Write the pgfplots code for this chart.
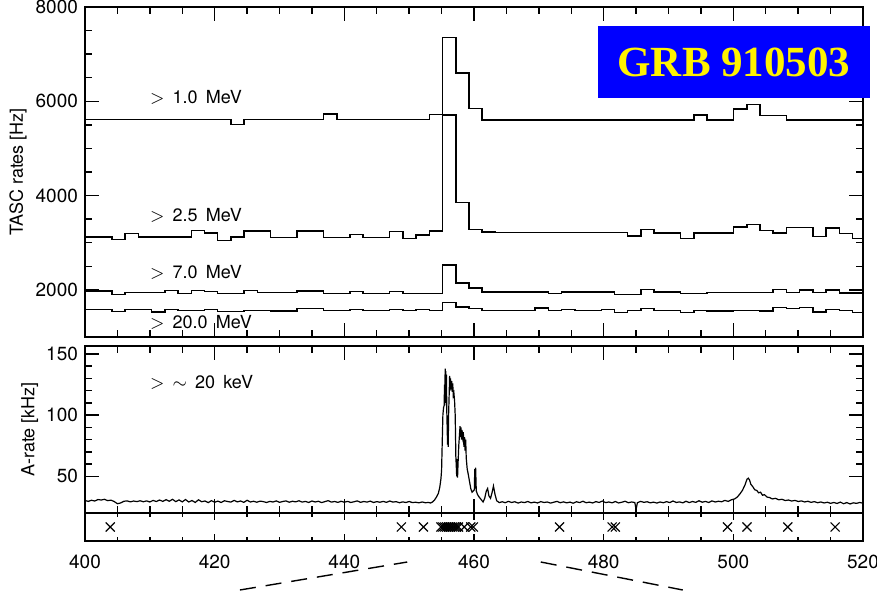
\documentclass[border=0pt]{standalone}
\usepackage{fontspec}
\setmainfont{TeX Gyre Heros}
\newfontfamily\timesfont{Liberation Serif}
\usepackage{pgfplots}
\usepackage{pgfplotstable}
\pgfplotsset{compat=1.18}

\pgfplotstableread{
x a b c d
400.00 5615 3122 1975 1588
402.11 5615 3122 1975 1588
404.15 5615 3070 1906 1545
406.19 5615 3193 1941 1581
408.23 5615 3122 1941 1581
410.27 5615 3122 1941 1531
412.31 5615 3122 1990 1588
414.35 5615 3122 1920 1559
416.39 5615 3263 1990 1559
418.43 5615 3207 1970 1588
420.47 5615 3051 1920 1545
422.51 5510 3122 1920 1545
424.55 5615 3250 1990 1566
426.59 5615 3250 1941 1566
428.63 5615 3108 1941 1552
430.67 5615 3108 1941 1552
432.71 5615 3250 1977 1602
434.75 5615 3250 1977 1602
436.79 5730 3108 1927 1559
438.83 5615 3108 1927 1559
440.87 5615 3172 1970 1588
442.91 5615 3108 1927 1559
444.95 5615 3108 1927 1559
446.99 5615 3240 1970 1588
449.03 5615 3094 1927 1566
451.07 5615 3164 1927 1588
453.11 5720 3249 1927 1566
455.15 7350 5709 2530 1729
457.19 6600 3849 2146 1637
459.23 5850 3285 2040 1602
461.27 5605 3225 1955 1566
463.31 5605 3220 1955 1566
465.35 5605 3220 1955 1566
467.39 5605 3220 1955 1566
469.43 5605 3220 1955 1616
471.47 5605 3220 1920 1559
473.51 5605 3220 1955 1588
475.55 5605 3220 1955 1559
477.59 5605 3220 1955 1559
479.63 5605 3220 1955 1581
481.67 5605 3220 1906 1517
483.71 5605 3143 1906 1559
485.75 5605 3284 2012 1602
487.79 5605 3207 1955 1559
489.83 5605 3207 1955 1559
491.87 5605 3086 1920 1517
493.91 5710 3207 1920 1566
495.95 5605 3207 1948 1552
497.99 5605 3207 1948 1552
500.03 5836 3334 1948 1566
502.07 5936 3383 1948 1566
504.11 5700 3263 1948 1552
506.15 5700 3207 2012 1630
508.19 5605 3320 1941 1602
510.23 5605 3320 1998 1630
512.27 5605 3136 1941 1531
514.31 5605 3313 1998 1588
516.35 5605 3193 1934 1559
518.39 5605 3086 1934 1524
520.43 5605 3086 1934 1524
}\tasc

\pgfplotstableread{
x y
400.0 30.2
400.5 29.5
401.0 30.4
401.5 29.8
402.0 31.0
402.5 30.6
403.0 31.2
403.5 30.1
404.0 30.5
404.5 29.4
405.0 27.6
405.5 28.2
406.0 29.6
406.5 29.9
407.0 29.1
407.5 29.8
408.0 29.3
408.5 30.0
409.0 29.2
409.5 29.9
410.0 29.0
410.5 30.3
411.0 29.4
411.5 30.6
412.0 29.5
412.5 30.9
413.0 29.6
413.5 31.2
414.0 29.3
414.5 30.7
415.0 29.1
415.5 31.0
416.0 29.0
416.5 30.2
417.0 28.6
417.5 30.8
418.0 29.2
418.5 29.8
419.0 28.5
419.5 30.1
420.0 28.8
420.5 29.7
421.0 28.6
421.5 30.0
422.0 29.4
422.5 28.9
423.0 30.3
423.5 29.1
424.0 29.8
424.5 28.7
425.0 30.4
425.5 29.0
426.0 29.6
426.5 28.8
427.0 29.7
427.5 29.3
428.0 28.6
428.5 29.5
429.0 29.0
429.5 29.9
430.0 28.7
430.5 29.4
431.0 29.9
431.5 28.8
432.0 29.6
432.5 29.1
433.0 30.0
433.5 28.9
434.0 29.5
434.5 28.6
435.0 29.8
435.5 29.0
436.0 29.6
436.5 28.5
437.0 29.3
437.5 30.1
438.0 28.9
438.5 29.4
439.0 28.7
439.5 29.6
440.0 28.8
440.5 29.5
441.0 28.6
441.5 29.2
442.0 29.9
442.5 28.7
443.0 29.4
443.5 28.9
444.0 29.7
444.5 28.6
445.0 29.3
445.5 28.8
446.0 29.5
446.5 28.7
447.0 29.8
447.5 28.9
448.0 29.3
448.5 28.4
449.0 29.1
449.5 28.6
450.0 29.4
450.5 28.5
451.0 28.8
451.5 28.3
452.0 29.0
452.5 28.4
453.0 28.6
453.3 28.2
453.6 29.0
453.9 30.5
454.2 33.0
454.5 36.0
454.72 41
454.9 48
455.0 55
455.1 78
455.2 100
455.3 106
455.4 108
455.45 125
455.5 110
455.55 138
455.6 112
455.65 136
455.7 108
455.75 133
455.8 104
455.86 90
455.92 76
455.97 86
456.02 74
456.08 100
456.16 115
456.24 132
456.3 120
456.38 130
456.46 121
456.55 128
456.63 119
456.72 126
456.8 116
456.9 118
457.0 112
457.1 100
457.2 66
457.27 58
457.33 50
457.4 64
457.46 49
457.55 62
457.65 75
457.76 84
457.85 91
457.92 82
458.0 90
458.08 80
458.15 88
458.25 82
458.35 86
458.45 74
458.55 82
458.62 71
458.72 80
458.8 65
458.95 56
459.1 52
459.3 46
459.5 40
459.7 37
459.9 38
460.05 39
460.12 56
460.2 40
460.25 57
460.35 38
460.55 35
460.8 33
461.1 31
461.4 29
461.65 32
461.9 38
462.1 40
462.3 34
462.55 32
462.8 37
463.0 42
463.25 35
463.5 30
463.9 28.5
464.35 29.2
464.8 28.4
465.3 29.5
465.8 28.6
466.3 29.2
466.8 28.1
467.3 29.0
467.8 28.5
468.3 29.4
468.8 28.3
469.3 28.9
469.8 28.2
470.3 29.3
470.8 28.6
471.3 29.0
471.8 28.1
472.3 28.8
472.8 29.5
473.3 28.4
473.8 29.1
474.3 28.3
474.8 28.9
475.3 28.0
475.8 29.2
476.3 28.5
476.8 29.6
477.3 28.4
477.8 28.9
478.3 28.2
478.8 29.3
479.3 28.6
479.8 29.8
480.3 28.5
480.8 29.0
481.3 28.3
481.8 29.4
482.3 28.2
482.8 28.8
483.3 29.6
483.8 28.4
484.3 29.0
484.8 28.6
485.0 23.0
485.2 28.4
485.7 29.5
486.2 28.7
486.7 29.2
487.2 28.3
487.7 28.9
488.2 28.1
488.7 29.0
489.2 28.4
489.7 29.3
490.2 28.5
490.7 29.8
491.2 28.6
491.7 29.1
492.2 28.3
492.7 29.6
493.2 28.5
493.7 29.4
494.2 28.7
494.7 30.0
495.2 28.8
495.7 29.5
496.2 28.6
496.7 29.9
497.2 29.0
497.7 29.6
498.2 29.2
498.7 30.3
499.2 29.5
499.7 30.8
500.2 31.5
500.6 33.0
501.0 35.5
501.4 38.5
501.8 43.0
502.1 47.5
502.3 48.5
502.5 47.0
502.7 43.5
503.0 41.5
503.3 39.0
503.6 38.5
503.9 36.5
504.2 37.0
504.5 34.5
504.8 35.0
505.2 33.0
505.6 32.6
506.0 31.5
506.5 32.0
507.0 30.8
507.5 31.2
508.0 30.2
508.5 30.6
509.0 29.8
509.5 30.3
510.0 29.4
510.5 29.9
511.0 29.0
511.5 29.6
512.0 28.7
512.5 29.3
513.0 28.4
513.5 29.0
514.0 28.2
514.5 28.8
515.0 27.9
515.5 28.6
516.0 27.8
516.5 28.9
517.0 27.6
517.5 28.5
518.0 27.4
518.5 28.3
519.0 27.9
519.5 28.6
520.0 28.0
}\arate

\pgfplotstableread{
x y
403.9 0.5
448.8 0.5
452.2 0.5
454.9 0.5
455.2 0.5
455.5 0.5
455.8 0.5
456.1 0.5
456.4 0.5
456.7 0.5
457.0 0.5
457.3 0.5
457.6 0.5
458.5 0.5
459.5 0.5
459.9 0.5
473.2 0.5
481.3 0.5
481.8 0.5
499.1 0.5
502.1 0.5
508.4 0.5
515.7 0.5
}\xmarks

\pgfplotsset{
  base/.style={
    scale only axis, width=389pt, xmin=400, xmax=520,
    axis line style={line width=0.9pt},
    every tick/.style={line width=0.7pt, black},
    major tick length=7pt, minor tick length=3.5pt,
    tick align=inside,
    xtick={400,420,...,520}, minor x tick num=3,
    tick label style={font=\fontsize{9.5}{11}\selectfont},
    /pgf/number format/assume math mode=true,
    /pgf/number format/1000 sep={},
    scaled ticks=false,
    label style={font=\fontsize{9}{10}\selectfont},
  },
}
\tikzset{lbl/.style={anchor=west, inner sep=0pt, font=\fontsize{9}{10}\selectfont}}

\begin{document}
\begin{tikzpicture}
\useasboundingbox (0,0) rectangle (438.5pt,297.5pt);

\begin{axis}[base, at={(42.5pt,129pt)}, anchor=south west, height=165pt,
  ymin=1000, ymax=8000, ytick={2000,4000,6000,8000}, minor y tick num=3,
  xticklabels={},
  ylabel={TASC rates [Hz]},
  ylabel style={at={(axis description cs:-0.086,0.5)}, anchor=center}]
\addplot[const plot mark left, no marks, line width=0.75pt] table[x=x,y=a]{\tasc};
\addplot[const plot mark left, no marks, line width=0.75pt] table[x=x,y=b]{\tasc};
\addplot[const plot mark left, no marks, line width=0.75pt] table[x=x,y=c]{\tasc};
\addplot[const plot mark left, no marks, line width=0.75pt] table[x=x,y=d]{\tasc};
\node[lbl] at (axis cs:410,6080) {$>$\hspace{0.45em}1.0\hspace{0.45em}MeV};
\node[lbl] at (axis cs:410,3590) {$>$\hspace{0.45em}2.5\hspace{0.45em}MeV};
\node[lbl] at (axis cs:410,2380) {$>$\hspace{0.45em}7.0\hspace{0.45em}MeV};
\node[lbl] at (axis cs:410,1320) {$>$\hspace{0.45em}20.0\hspace{0.45em}MeV};
\end{axis}

\begin{axis}[base, at={(42.5pt,41pt)}, anchor=south west, height=83.5pt,
  ymin=20, ymax=156.5, ytick={50,100,150}, minor y tick num=4,
  xticklabels={},
  ylabel={A-rate [kHz]},
  ylabel style={at={(axis description cs:-0.071,0.5)}, anchor=center}]
\addplot[no marks, line width=0.6pt] table[x=x,y=y]{\arate};
\node[lbl] at (axis cs:410,126.6) {$>$\hspace{0.45em}$\sim$\hspace{0.45em}20\hspace{0.45em}keV};
\end{axis}

\begin{axis}[base, at={(42.5pt,27pt)}, anchor=south west, height=14pt,
  major tick length=3.5pt, minor tick length=2pt,
  ymin=0, ymax=1, ytick=\empty, clip=false,
  xticklabel style={yshift=-3.5pt}]
\addplot[only marks, mark=x, mark size=3.2pt, mark options={line width=0.6pt}] table[x=x,y=y]{\xmarks};
\draw[line width=0.7pt, dash pattern=on 8pt off 5pt] (axis cs:423.9,-1.75) -- (axis cs:449.7,-0.75);
\draw[line width=0.7pt, dash pattern=on 8pt off 5pt] (axis cs:470.3,-0.75) -- (axis cs:492.2,-1.75);
\end{axis}

\fill[blue] (299pt,248.5pt) rectangle (435pt,284.5pt);
\node[text=yellow, font=\timesfont\bfseries\fontsize{21.5}{24}\selectfont] at (367pt,266.5pt) {GRB 910503};
\end{tikzpicture}
\end{document}
